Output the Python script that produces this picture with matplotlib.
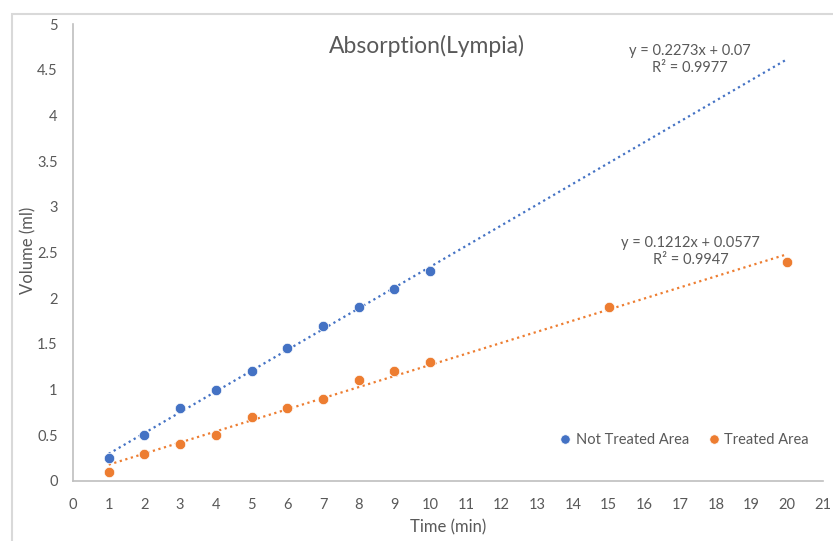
import numpy as np
import matplotlib
matplotlib.use('Agg')
import matplotlib.pyplot as plt
from matplotlib.patches import Rectangle

plt.rcParams['font.family'] = ['Lato', 'DejaVu Sans']

# measurements
time_not_treated = [1, 2, 3, 4, 5, 6, 7, 8, 9, 10]
vol_not_treated = [0.25, 0.5, 0.8, 1.0, 1.2, 1.45, 1.7, 1.9, 2.1, 2.3]
time_treated = [1, 2, 3, 4, 5, 6, 7, 8, 9, 10, 15, 20]
vol_treated = [0.1, 0.3, 0.4, 0.5, 0.7, 0.8, 0.9, 1.1, 1.2, 1.3, 1.9, 2.4]

# linear trendlines (slope, intercept, r2), both drawn out to t = 20
fit_not_treated = (0.2273, 0.07, 0.9977)
fit_treated = (0.1212, 0.0577, 0.9947)
trend_end = 20

blue = '#4472C4'
orange = '#ED7D31'
grey = '#595959'
axis_grey = '#BFBFBF'

fig = plt.figure(figsize=(8.33, 5.41), dpi=100)
fig.patches.append(Rectangle((12/833, -0.1), 1.2, 1 - 14/541 + 0.1,
                             transform=fig.transFigure, fill=False,
                             edgecolor='#D9D9D9', linewidth=1.5))
ax = fig.add_axes([73/833, 1 - 481/541, 750/833, 457/541])


def trend(ax, x, fit, color):
    xs = np.array([min(x), trend_end])
    ax.plot(xs, fit[0]*xs + fit[1], linestyle=(0, (1, 1.6)), color=color,
            linewidth=1.6, zorder=2)


trend(ax, time_not_treated, fit_not_treated, blue)
trend(ax, time_treated, fit_treated, orange)
ax.plot(time_not_treated, vol_not_treated, 'o', color=blue, markersize=7.5,
        markeredgecolor='white', markeredgewidth=0.5, label='Not Treated Area', zorder=3)
ax.plot(time_treated, vol_treated, 'o', color=orange, markersize=7.5,
        markeredgecolor='white', markeredgewidth=0.5, label='Treated Area', zorder=3)

ax.text(17.28, 4.61, f'y = {fit_not_treated[0]}x + {fit_not_treated[1]}\nR² = {fit_not_treated[2]}',
        ha='center', va='center', fontsize=10.5, color=grey, linespacing=1.25)
ax.text(17.3, 2.51, f'y = {fit_treated[0]}x + {fit_treated[1]}\nR² = {fit_treated[2]}',
        ha='center', va='center', fontsize=10.5, color=grey, linespacing=1.25)

ax.set_xlim(0, 21)
ax.set_ylim(0, 5)
ax.set_xticks(range(0, 22))
ax.set_yticks(np.arange(0, 5.01, 0.5))
ax.set_yticklabels(['0', '0.5', '1', '1.5', '2', '2.5', '3', '3.5', '4', '4.5', '5'])
ax.tick_params(length=0, labelsize=10.5, labelcolor=grey)
ax.tick_params(axis='y', pad=11)
ax.tick_params(axis='x', pad=12)
for s in ['top', 'right']:
    ax.spines[s].set_visible(False)
for s in ['left', 'bottom']:
    ax.spines[s].set_color(axis_grey)
    ax.spines[s].set_linewidth(1.2)

ax.set_xlabel('Time (min)', fontsize=12, color=grey, va='center')
ax.set_ylabel('Volume (ml)', fontsize=12, color=grey, va='center')
ax.xaxis.set_label_coords(0.5, (481 - 527) / 457)
ax.yaxis.set_label_coords((28 - 73) / 750, 0.5 + (252.5 - 250) / 457)
fig.text(427/833, 1 - 46/541, 'Absorption(Lympia)', ha='center', va='center',
         fontsize=16.5, color=grey)

fig.legend(loc='center', bbox_to_anchor=(684/833, 1 - 440/541), ncol=2,
           frameon=False, fontsize=10.5, labelcolor=grey, handlelength=0.8,
           handletextpad=0.3, columnspacing=1.3, markerscale=0.9)

fig.savefig('out.png', dpi=100)
